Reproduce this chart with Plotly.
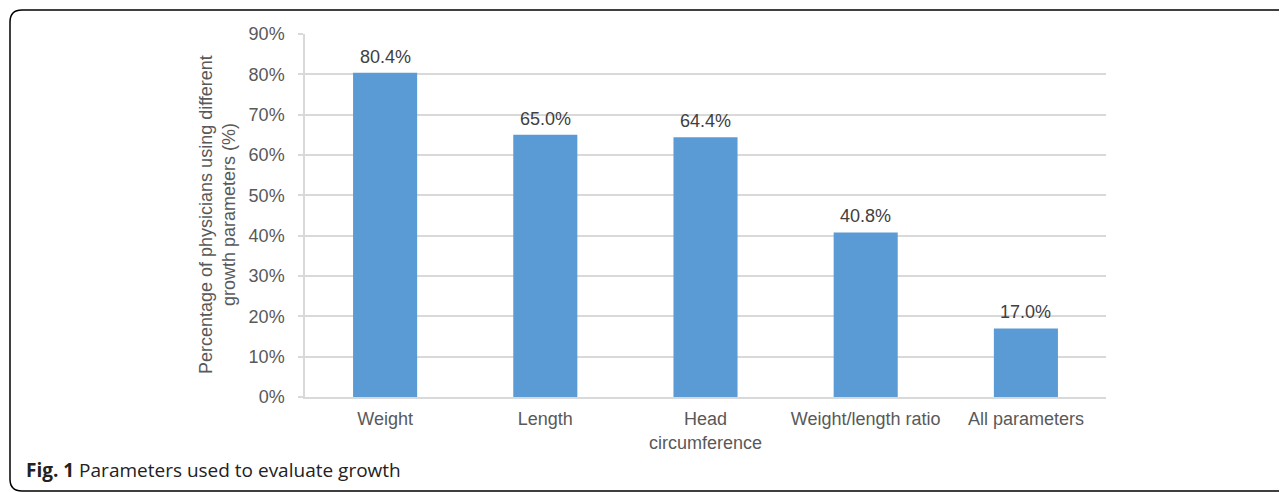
import plotly.graph_objects as go

categories = ["Weight", "Length", "Head<br>circumference", "Weight/length ratio", "All parameters"]
values = [80.4, 65.0, 64.4, 40.8, 17.0]
labels = ["80.4%", "65.0%", "64.4%", "40.8%", "17.0%"]
tick_vals = [0, 10, 20, 30, 40, 50, 60, 70, 80, 90]
tick_text = ["0%", "10%", "20%", "30%", "40%", "50%", "60%", "70%", "80%", "90%"]

OFF = 8  # page body margin
W, H = 1287, 492
# target plot area in window pixels: x 305..1106, y 34..397
ML, MT = 305 - OFF, 34 - OFF
MR = W - (1106 - OFF)
MB = H - (397 - OFF)
PW, PH = W - ML - MR, H - MT - MB

def px(x):
    return (x - OFF - ML) / PW

def py(y):
    return (H - MB - (y - OFF)) / PH

FONT = "Liberation Sans, Arial, sans-serif"

fig = go.Figure()
fig.add_trace(go.Bar(
    x=categories, y=values,
    marker=dict(color="#5B9BD5", line=dict(width=0)),
    hoverinfo="skip",
))

for c, v, t in zip(categories, values, labels):
    fig.add_annotation(x=c, y=v, xref="x", yref="y", text=t, showarrow=False,
                       yanchor="bottom", yshift=4,
                       font=dict(family=FONT, size=18, color="#404040"))

# rounded border box
x0, x1, y0, y1, r = px(10), px(1310), py(10), py(491), 12
rx, ry = r / PW, r / PH
path = (f"M {x0},{y0-ry} L {x0},{y1+ry} Q {x0},{y1} {x0+rx},{y1} "
        f"L {x1},{y1} L {x1},{y0} L {x0+rx},{y0} Q {x0},{y0} {x0},{y0-ry} Z")
fig.add_shape(type="path", path=path, xref="paper", yref="paper",
              line=dict(color="#000000", width=1.5), fillcolor="rgba(0,0,0,0)", layer="below")

fig.add_annotation(x=px(24), y=py(470), xref="paper", yref="paper", xanchor="left", yanchor="middle",
                   text="<b>Fig. 1</b> Parameters used to evaluate growth", showarrow=False,
                   font=dict(family="Open Sans, sans-serif", size=19, color="#222222"))

fig.add_annotation(x=px(217), y=py(215), xref="paper", yref="paper", xanchor="center", yanchor="middle",
                   text="Percentage of physicians using different<br>growth parameters (%)",
                   textangle=-90, showarrow=False,
                   font=dict(family=FONT, size=18, color="#595959"))

fig.update_layout(
    width=W, height=H,
    margin=dict(l=ML, r=MR, t=MT, b=MB),
    paper_bgcolor="white", plot_bgcolor="white",
    bargap=0.6, showlegend=False,
    font=dict(family=FONT, size=18, color="#595959"),
    xaxis=dict(showgrid=False, showline=True, linecolor="#D9D9D9", linewidth=1.5,
               tickfont=dict(size=18, color="#595959"), ticks="", ticklabelstandoff=5,
               fixedrange=True),
    yaxis=dict(range=[0, 90], tickvals=tick_vals, ticktext=tick_text, showgrid=True,
               gridcolor="#D9D9D9", gridwidth=1.5, showline=True, linecolor="#D9D9D9", linewidth=1.5,
               ticks="outside", ticklen=5, tickcolor="#D9D9D9", tickwidth=1.5,
               ticklabelstandoff=10,
               zeroline=False, tickfont=dict(size=18, color="#595959"),
               fixedrange=True),
)

fig.write_html("out.html")
